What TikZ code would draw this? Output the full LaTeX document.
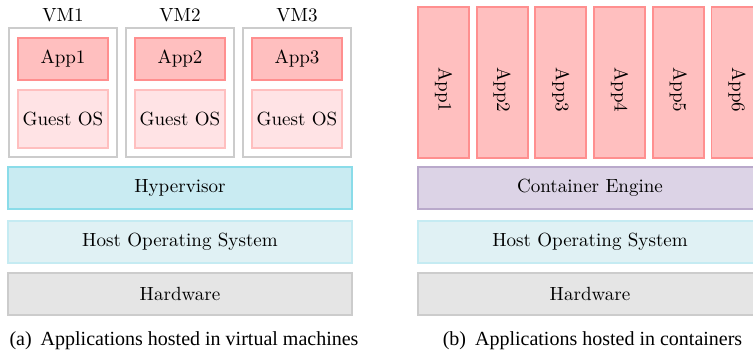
\documentclass[tikz,border=0pt]{standalone}
\usepackage{fontspec}
\newfontfamily\capfont{Liberation Serif}
\definecolor{appfill}{HTML}{FFBFBF}
\definecolor{appdraw}{HTML}{FF8F8F}
\definecolor{osfill}{HTML}{FFE3E5}
\definecolor{osdraw}{HTML}{FFBFBF}
\definecolor{vmdraw}{HTML}{CCCCCC}
\definecolor{hvfill}{HTML}{C9EBF2}
\definecolor{hvdraw}{HTML}{8ADCE9}
\definecolor{hostfill}{HTML}{E0F1F4}
\definecolor{hostdraw}{HTML}{C5EBF2}
\definecolor{hwfill}{HTML}{E5E5E5}
\definecolor{hwdraw}{HTML}{CCCCCC}
\definecolor{cefill}{HTML}{DCD3E6}
\definecolor{cedraw}{HTML}{B9A9CB}
\def\u{0.525pt}
\tikzset{
  box/.style={rectangle, inner sep=0pt, line width=1pt, font=\fontsize{10}{12}\selectfont},
  vmbox/.style={box, draw=vmdraw, fill=white, minimum width=108*\u, minimum height=129*\u},
  appbox/.style={box, draw=appdraw, fill=appfill, minimum width=90*\u, minimum height=42*\u},
  guestbox/.style={box, draw=osdraw, fill=osfill, minimum width=90*\u, minimum height=58*\u},
  layer/.style={box, minimum width=344*\u, minimum height=42*\u},
  hvbox/.style={layer, draw=hvdraw, fill=hvfill},
  hostbox/.style={layer, draw=hostdraw, fill=hostfill},
  hwbox/.style={layer, draw=hwdraw, fill=hwfill},
  cebox/.style={layer, draw=cedraw, fill=cefill},
  ctrbox/.style={box, draw=appdraw, fill=appfill, minimum width=51*\u, minimum height=151*\u},
  vmlabel/.style={font=\fontsize{10}{12}\selectfont, inner sep=0pt},
  caption/.style={font=\capfont\fontsize{10.5}{12}\selectfont, inner sep=0pt}
}
\begin{document}
\begin{tikzpicture}[x=0.525pt, y=-0.525pt]
  \useasboundingbox (0,0) rectangle (753,355);
  \clip (0,0) rectangle (753,355);

  % (a) virtual machines
  \foreach \i/\cx in {1/63, 2/180, 3/297} {
    \node[vmlabel] (vmlab\i) at (\cx,15) {VM\i};
    \node[vmbox] (vm\i) at (\cx,92.5) {};
    \node[appbox] (app\i) at (\cx,59) {App\i};
    \node[guestbox] (guest\i) at (\cx,119) {Guest OS};
  }
  \node[hvbox] (hyper) at (180,188) {Hypervisor};
  \node[hostbox] (hostA) at (180,242) {Host Operating System};
  \node[hwbox] (hwA) at (180,294) {Hardware};
  \node[caption] (capA) at (184,341) {(a)\hspace{0.45em}Applications hosted in virtual machines};

  % (b) containers
  \foreach \i in {1,...,6} {
    \pgfmathsetmacro{\cx}{443.5+58.7*(\i-1)}
    \node[ctrbox] (ctr\i) at (\cx,82.5) {};
    \node[font=\fontsize{10}{12}\selectfont, inner sep=0pt, rotate=-90] (ctrlab\i) at (\cx,90) {App\i};
  }
  \node[cebox] (engine) at (590,188) {Container Engine};
  \node[hostbox] (hostB) at (590,242) {Host Operating System};
  \node[hwbox] (hwB) at (590,294) {Hardware};
  \node[caption] (capB) at (592.5,341) {(b)\hspace{0.45em}Applications hosted in containers};
\end{tikzpicture}
\end{document}
